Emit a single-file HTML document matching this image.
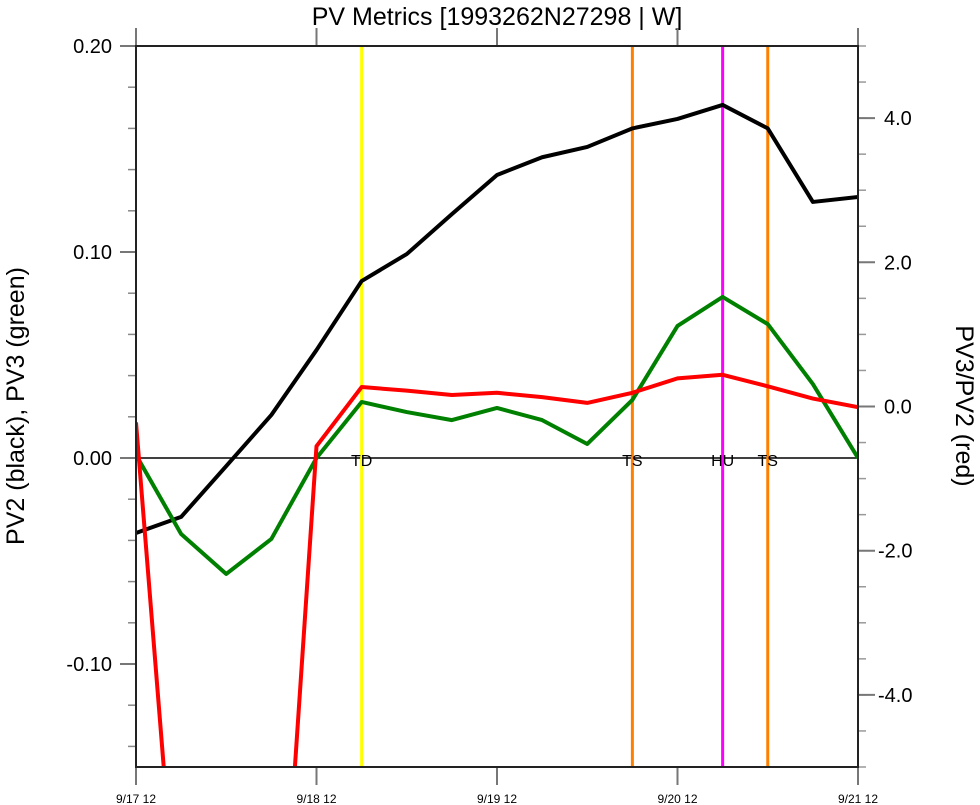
<!DOCTYPE html>
<html><head><meta charset="utf-8"><style>
html,body{margin:0;background:#fff;overflow:hidden;width:980px;height:805px}
svg{display:block}
svg text{font-family:"Liberation Sans",sans-serif}
</style></head><body>
<svg width="980" height="805" xmlns="http://www.w3.org/2000/svg" overflow="hidden">
<defs><clipPath id="clip"><rect x="136" y="46" width="722" height="721"/></clipPath></defs>
<text x="497" y="25" font-size="25" text-anchor="middle">PV Metrics [1993262N27298 | W]</text>
<text transform="translate(24,406) rotate(-90)" font-size="25" text-anchor="middle">PV2 (black), PV3 (green)</text>
<text transform="translate(956,406) rotate(90)" font-size="25" text-anchor="middle">PV3/PV2 (red)</text>
<g id="axes"></g>
<g id="marks" clip-path="url(#clip)"></g>
<rect x="136" y="46" width="722" height="721" fill="none" stroke="#222" stroke-width="2"/>
</svg>
<script>
const times = [0,6,12,18,24,30,36,42,48,54,60,66,72,78,84,90,96];
const pv2 = [-0.0364,-0.0286,-0.0039,0.0209,0.0524,0.0859,0.099,0.1184,0.1374,0.146,0.151,0.16,0.1646,0.1714,0.16,0.1243,0.1267];
const pv3 = [0.0015,-0.0369,-0.0563,-0.0393,0,0.0272,0.0223,0.0184,0.0243,0.0184,0.0068,0.0282,0.0641,0.0782,0.065,0.0359,0];
const ratio = [-0.22,-8.0,-10.0,-9.85,-0.55,0.27,0.22,0.16,0.19,0.13,0.05,0.19,0.39,0.44,0.28,0.11,-0.01];
const events = [{t:30,label:"TD",color:"#ffff00"},{t:66,label:"TS",color:"#ff8000"},{t:78,label:"HU",color:"#ff00ff"},{t:84,label:"TS",color:"#ff8000"}];
const xTickLabels = ["9/17 12","9/18 12","9/19 12","9/20 12","9/21 12"];
const leftTicks = [0.2,0.1,0,-0.1];
const leftTickLabels = ["0.20","0.10","0.00","-0.10"];
const rightTicks = [4,2,0,-2,-4];
const rightTickLabels = ["4.0","2.0","0.0","-2.0","-4.0"];

const X = t => 136 + t*(722/96);
const YL = v => 458 - v*2060;
const YR = v => 406.5 - v*72.1;
const NS="http://www.w3.org/2000/svg";
const axes=document.getElementById('axes'), marks=document.getElementById('marks');
function mk(tag,attrs,parent){const e=document.createElementNS(NS,tag);for(const k in attrs)e.setAttribute(k,attrs[k]);parent.appendChild(e);return e;}

xTickLabels.forEach((lab,i)=>{
  const x=X(i*24);
  const t1=mk('line',{x1:x,x2:x,y1:767,y2:785,stroke:'#777','stroke-width':2},axes);
  
  
  const t2=mk('line',{x1:x,x2:x,y1:28,y2:46,stroke:'#777','stroke-width':2},axes);
  
  
  const tx=mk('text',{x:x,y:803,'font-size':12,'text-anchor':'middle'},axes);
  tx.textContent=lab;
  
  
});
for(let v=-0.14;v<=0.2001;v+=0.02){
  const y=YL(v);
  const m=mk('line',{x1:128,x2:136,y1:y,y2:y,stroke:'#888','stroke-width':1.5},axes);
  
  
}
leftTicks.forEach((v,i)=>{
  const y=YL(v);
  const l=mk('line',{x1:120,x2:136,y1:y,y2:y,stroke:'#777','stroke-width':2},axes);
  
  
  const t=mk('text',{x:112,y:y+7,'font-size':20,'text-anchor':'end'},axes);
  t.textContent=leftTickLabels[i];
  
  
});
for(let v=-5;v<=5.001;v+=0.5){
  const y=YR(v);
  const m=mk('line',{x1:858,x2:866,y1:y,y2:y,stroke:'#999','stroke-width':1.5},axes);
  
  
}
rightTicks.forEach((v,i)=>{
  const y=YR(v);
  const l=mk('line',{x1:858,x2:875,y1:y,y2:y,stroke:'#777','stroke-width':2},axes);
  
  
  const t=mk('text',{x:v<0?878:884,y:y+7,'font-size':20,'text-anchor':'start'},axes);
  t.textContent=rightTickLabels[i];
  
  
});
const z=mk('line',{x1:136,x2:858,y1:YL(0),y2:YL(0),stroke:'#000','stroke-width':1.5},marks);


events.forEach(ev=>{
  const x=X(ev.t);
  const l=mk('line',{x1:x,x2:x,y1:46,y2:767,stroke:ev.color,'stroke-width':3},marks);
  
  
});
events.forEach(ev=>{
  const t=mk('text',{x:X(ev.t),y:YL(0)+8,'font-size':16,'text-anchor':'middle'},marks);
  t.textContent=ev.label;
  
  
});
function series(vals,yf,color,name){
  const p=mk('polyline',{points:vals.map((v,i)=>X(times[i])+','+yf(v)).join(' '),fill:'none',stroke:color,'stroke-width':4,'stroke-linejoin':'round'},marks);
  
  
}
series(pv2,YL,'#000','pv2-line');
series(pv3,YL,'#008000','pv3-line');
series(ratio,YR,'#ff0000','pv3-pv2-ratio-line');
</script>
</body></html>
